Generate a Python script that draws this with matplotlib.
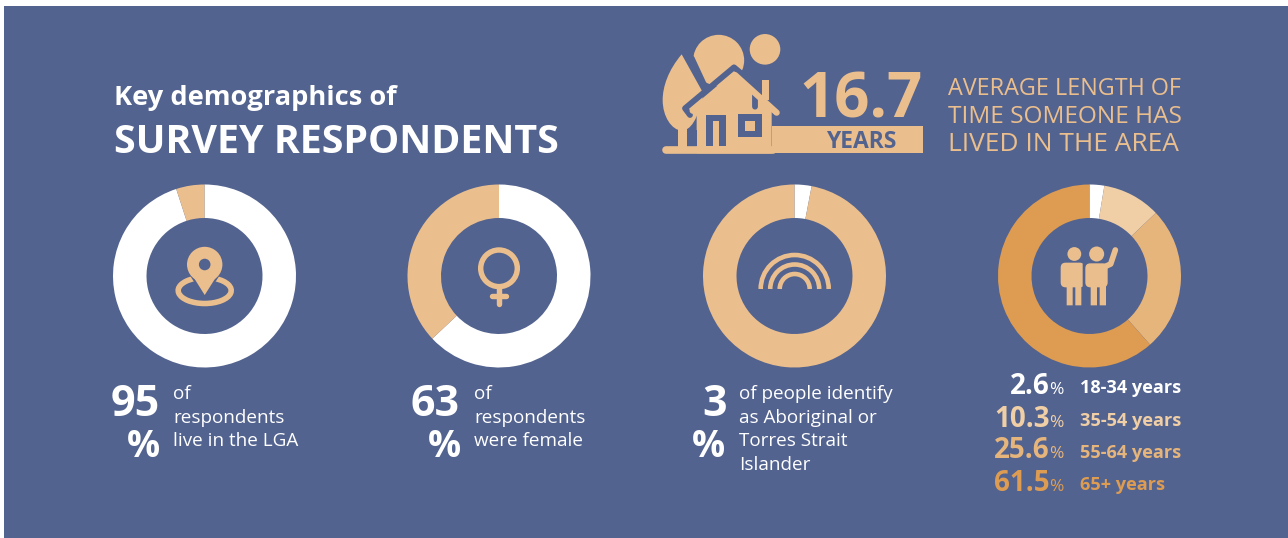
import matplotlib
matplotlib.use("Agg")
import matplotlib.pyplot as plt
from matplotlib.patches import Rectangle, Circle, Arc, PathPatch, FancyBboxPatch, Polygon
from matplotlib.path import Path

plt.rcParams['font.family'] = ['Open Sans', 'DejaVu Sans']

BG = '#53638F'
TAN = '#EBBF8D'
LIGHT = '#F0CFA6'
MID = '#E6B57C'
DARK = '#DD9C52'
WHITE = '#FFFFFF'

W, H = 1288, 538

# data
lga = [95, 5]
female = [63, 37]
aboriginal = [3, 97]
age_values = [2.6, 10.3, 25.6, 61.5]
age_labels = ['18-34 years', '35-54 years', '55-64 years', '65+ years']
age_colors = [WHITE, LIGHT, MID, DARK]
avg_years = '16.7'

fig = plt.figure(figsize=(W / 100, H / 100), dpi=100, facecolor='white')
ax = fig.add_axes([0, 0, 1, 1], zorder=0)
ax.set_xlim(0, W)
ax.set_ylim(H, 0)
ax.axis('off')
ax.add_patch(Rectangle((4, 6), W, H, color=BG, lw=0))

# overlay for icons and text
top = fig.add_axes([0, 0, 1, 1], zorder=5)
top.set_xlim(0, W)
top.set_ylim(H, 0)
top.axis('off')
top.patch.set_alpha(0)


def donut(cx, cy, values, colors):
    R = 91.5
    m = 2
    a = fig.add_axes([(cx - R - m) / W, 1 - (cy + R + m) / H, 2 * (R + m) / W, 2 * (R + m) / H], zorder=2)
    a.pie(values, colors=colors, startangle=90, counterclock=False, radius=R,
          wedgeprops=dict(width=R - 58, linewidth=0))
    a.set_xlim(-R - m, R + m)
    a.set_ylim(-R - m, R + m)


donut(204.5, 276, lga, [WHITE, TAN])
donut(499, 276, female, [WHITE, TAN])
donut(794.5, 276, aboriginal, [WHITE, TAN])
donut(1089.5, 276, age_values, age_colors)


def T(x, y, s, size, color=WHITE, weight='normal', ha='left', **kw):
    return top.text(x, y, s, fontsize=size, color=color, fontweight=weight, ha=ha, va='baseline', **kw)


# titles
T(114, 105, 'Key demographics of', 19.6, weight='bold')
T(114, 153, 'SURVEY RESPONDENTS', 28.4, weight='bold')
for y, s, size in zip([95, 123, 151], ['AVERAGE LENGTH OF', 'TIME SOMEONE HAS', 'LIVED IN THE AREA'],
                      [16.8, 17.6, 18.9]):
    T(948, y, s, size, color=TAN)

# house icon, coordinates from the 3x crop at (640,20)
def hx(x, y):
    return 640 + x / 3, 20 + y / 3


def hrect(x0, y0, x1, y1, c):
    px, py = hx(x0, y0)
    top.add_patch(Rectangle((px, py), (x1 - x0) / 3, (y1 - y0) / 3, color=c, lw=0))


def hpoly(pts, c):
    top.add_patch(Polygon([hx(*p) for p in pts], closed=True, color=c, lw=0))


def hline(pts, lw, c=BG, cap='round'):
    top.plot(*zip(*[hx(*p) for p in pts]), color=c, lw=lw, solid_capstyle=cap, solid_joinstyle='round')


top.add_patch(Circle(hx(375, 88), 15.3, color=TAN, lw=0))
top.add_patch(Circle(hx(236, 121), 25.5, color=TAN, lw=0))
tree = Path([hx(125, 103), hx(85, 150), hx(68, 200), hx(68, 240), hx(68, 290), hx(95, 330), hx(125, 332),
             hx(150, 332), hx(175, 300), hx(190, 220), hx(125, 103)],
            [Path.MOVETO, Path.CURVE4, Path.CURVE4, Path.CURVE4, Path.CURVE4, Path.CURVE4, Path.CURVE4,
             Path.CURVE4, Path.CURVE4, Path.CURVE4, Path.CLOSEPOLY])
top.add_patch(PathPatch(tree, color=TAN, lw=0))
hrect(113, 325, 140, 385, TAN)
hline([(155, 115), (193, 197)], 4.3)
hline([(150, 285), (135, 265), (282, 142), (345, 195), (345, 260)], 4.2)
hline([(158, 272), (285, 165), (410, 278)], 4.5, TAN)
hpoly([(285, 160), (395, 262), (395, 400), (170, 400), (170, 270)], TAN)
hrect(366, 180, 386, 240, TAN)
hline([(78, 389), (400, 389)], 5.5, TAN)
hrect(395, 318, 848, 400, TAN)
hrect(140, 330, 170, 378, BG)
hrect(198, 285, 258, 378, BG)
hrect(218, 302, 238, 380, TAN)
hrect(295, 282, 365, 350, BG)
hrect(315, 302, 345, 332, TAN)
T(923, 118, avg_years, 44.5, color=TAN, weight='bold', ha='right')
T(861.5, 147.5, 'YEARS', 16.5, color=BG, weight='bold', ha='center')

# pin icon
top.add_patch(Arc((204.7, 290.5), 53, 26, theta1=-48, theta2=228, color=TAN, lw=4))
top.add_patch(Polygon([(189, 272), (220.5, 272), (204.7, 297)], color=TAN, lw=1.5, ec=BG))
top.add_patch(Circle((204.7, 264.5), 17.7, color=TAN, lw=0))
top.add_patch(Circle((204.7, 264.5), 5.8, color=BG, lw=0))

# female icon
top.add_patch(Circle((499, 268.3), 18.3, fill=False, ec=TAN, lw=3.9))
top.plot([499, 499], [289, 304], color=TAN, lw=3.9, solid_capstyle='round')
top.plot([492, 506], [296, 296], color=TAN, lw=3.9, solid_capstyle='round')

# rainbow icon
for r in [34, 24.5, 15]:
    top.add_patch(Arc((794.7, 289), 2 * r, 2 * r, theta1=180, theta2=360, color=TAN, lw=3.3, capstyle='butt'))


# people icon, coordinates from the 3x crop at (680,170)
def px(x, y):
    return 680 + x / 3, 170 + y / 3


def prect(x0, y0, x1, y1, c=TAN, r=0):
    a, b = px(x0, y0)
    top.add_patch(FancyBboxPatch((a + r, b + r), (x1 - x0) / 3 - 2 * r, (y1 - y0) / 3 - 2 * r,
                                 boxstyle='round,pad=%f,rounding_size=%f' % (r, r), color=c, lw=0))


top.add_patch(Circle(px(1183, 252), 6.9, color=TAN, lw=0))
prect(1142, 278, 1214, 352, r=5)
prect(1160, 340, 1178, 406)
prect(1186, 340, 1204, 406)
prect(1208, 270, 1217, 360, c=BG)
top.add_patch(Circle(px(1250, 252), 7.5, color=TAN, lw=0))
prect(1216, 280, 1283, 352, r=5)
prect(1232, 340, 1251, 406)
prect(1259, 340, 1278, 406)
top.plot(*zip(px(1270, 292), px(1292, 282), px(1306, 240)), color=TAN, lw=4.1, solid_capstyle='round',
         solid_joinstyle='round')

# captions
captions = [
    (159.5, 160, 173, '95', ['of', 'respondents', 'live in the LGA']),
    (460, 461, 474, '63', ['of', 'respondents', 'were female']),
    (727, 725, 739, '3', ['of people identify', 'as Aboriginal or', 'Torres Strait', 'Islander']),
]
for xr, xp, xt, num, lines in captions:
    T(xr, 416, num, 31, weight='bold', ha='right')
    T(xp, 457, '%', 26.5, weight='bold', ha='right')
    for i, s in enumerate(lines):
        T(xt, 399 + i * 23.6, s, 13.6)

# age legend
pct_base = [394, 427, 458, 491]
lab_base = [393, 426, 458, 490]
for v, lab, c, y0, y1 in zip(age_values, age_labels, age_colors, pct_base, lab_base):
    T(1050, y0, '%.1f' % v, 20, color=c, weight='bold', ha='right')
    T(1049.5, y0, '%', 12.5, color=c)
    T(1080, y1, lab, 13.1, color=c, weight='bold')

fig.savefig('out.png', dpi=100)
